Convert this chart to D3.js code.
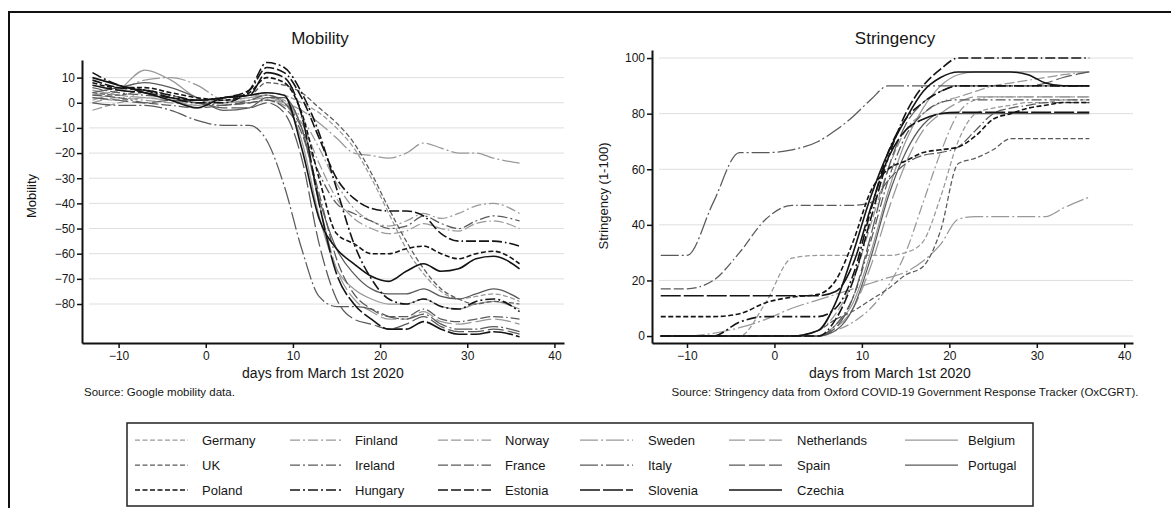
<!DOCTYPE html>
<html>
<head lang="en">
    <meta charset="UTF-8">
    <title>Mobility and Stringency</title>
    <script src="https://d3js.org/d3.v7.min.js"></script>
    <style>
        body { margin: 0; background: #fff; }
        text { font-family: "Liberation Sans", Arial, sans-serif; fill: #161616; }
    </style>
</head>
<body>
<div id="chartContainer"></div>
<script type="text/javascript">

    // days from March 1st 2020 (shared by every series)
    var days = [-13, -10, -7, -4, -1, 2, 5, 7, 9, 11, 13, 15, 17, 19, 21, 23, 25, 27, 29, 31, 33, 36];

    // legend order, row by row
    var countries = ["Germany", "Finland", "Norway", "Sweden", "Netherlands", "Belgium",
                     "UK", "Ireland", "France", "Italy", "Spain", "Portugal",
                     "Poland", "Hungary", "Estonia", "Slovenia", "Czechia"];

    // Google mobility, smoothed
    var mobGermany     = [2, 1, 4, 2, 0, 1, 2, 4, 3, 0, -4, -10, -18, -30, -44, -58, -68, -75, -78, -77, -76, -79];
    var mobFinland     = [0, 2, 1, 0, -1, 0, 1, 2, 0, -6, -18, -32, -42, -47, -49, -47, -44, -46, -44, -41, -40, -44];
    var mobNorway      = [-3, 0, 2, 1, -1, -1, 0, 1, -1, -8, -24, -38, -46, -50, -52, -51, -48, -50, -51, -48, -47, -50];
    var mobSweden      = [3, 5, 9, 10, 7, 1, 0, 1, 0, -3, -8, -14, -20, -21, -22, -20, -16, -18, -20, -20, -22, -24];
    var mobNetherlands = [5, 3, 2, 1, 0, 1, 2, 3, 1, -10, -40, -66, -78, -83, -86, -86, -83, -87, -88, -87, -86, -88];
    var mobBelgium     = [1, 5, 13, 9, 2, 0, 1, 3, 0, -15, -45, -66, -74, -78, -80, -80, -78, -81, -82, -80, -79, -82];
    var mobUK          = [4, 3, 5, 3, 1, 2, 3, 8, 7, 4, -2, -8, -16, -28, -42, -55, -66, -74, -78, -80, -79, -80];
    var mobIreland     = [6, 4, 3, 2, 0, -1, 1, 3, 0, -10, -28, -40, -44, -47, -50, -49, -45, -48, -50, -47, -45, -47];
    var mobFrance      = [3, 2, 0, -1, -2, -1, 0, 1, -2, -12, -36, -62, -76, -82, -85, -85, -82, -86, -87, -86, -85, -86];
    var mobItaly       = [0, -1, -1, -3, -7, -9, -9, -15, -33, -58, -77, -81, -81, -82, -85, -86, -84, -88, -90, -90, -89, -91];
    var mobSpain       = [2, 1, 0, 1, 0, -2, -2, 0, -4, -22, -56, -78, -86, -88, -90, -88, -85, -89, -91, -91, -90, -92];
    var mobPortugal    = [4, 6, 8, 6, 2, -3, -2, 2, 2, -10, -38, -58, -68, -74, -76, -76, -74, -77, -78, -76, -74, -78];
    var mobPoland      = [8, 6, 6, 4, 2, 1, 4, 10, 8, -4, -30, -52, -56, -60, -60, -58, -57, -60, -62, -60, -59, -64];
    var mobHungary     = [12, 7, 5, 2, 0, 0, 5, 16, 14, 4, -12, -34, -56, -70, -78, -80, -78, -81, -82, -79, -78, -83];
    var mobEstonia     = [9, 6, 5, 3, 1, 2, 5, 14, 12, 2, -14, -30, -38, -42, -43, -43, -45, -52, -55, -55, -55, -57];
    var mobSlovenia    = [7, 5, 4, 2, 1, 2, 3, 12, 10, -5, -40, -68, -80, -86, -90, -90, -87, -90, -92, -92, -91, -93];
    var mobCzechia     = [10, 7, 4, 1, -2, 2, 3, 4, 3, -18, -46, -58, -64, -69, -71, -67, -64, -67, -66, -62, -61, -66];

    // OxCGRT stringency index
    var strGermany     = [0, 0, 0, 0, 12, 28, 29, 29, 29, 29, 29, 30, 34, 50, 70, 80, 82, 83, 84, 84, 85, 85];
    var strFinland     = [0, 0, 0, 0, 0, 0, 0, 2, 5, 10, 18, 30, 48, 66, 80, 85, 86, 86, 86, 86, 86, 86];
    var strNorway      = [0, 0, 0, 0, 0, 0, 2, 8, 20, 40, 60, 74, 80, 84, 86, 88, 90, 91, 92, 93, 94, 95];
    var strSweden      = [0, 0, 1, 3, 6, 10, 13, 15, 17, 19, 21, 23, 27, 33, 42, 43, 43, 43, 43, 43, 46, 50];
    var strNetherlands = [0, 0, 0, 0, 0, 0, 0, 3, 10, 25, 45, 62, 74, 80, 84, 86, 86, 86, 86, 86, 86, 86];
    var strBelgium     = [0, 0, 0, 0, 0, 0, 0, 4, 12, 30, 52, 70, 82, 90, 94, 95, 95, 95, 95, 95, 95, 95];
    var strUK          = [0, 0, 0, 0, 0, 0, 2, 6, 9, 13, 17, 22, 25, 38, 62, 64, 67, 71, 71, 71, 71, 71];
    var strIreland     = [0, 0, 0, 0, 0, 0, 0, 4, 14, 34, 56, 72, 80, 84, 85, 85, 85, 85, 85, 85, 85, 85];
    var strFrance      = [17, 17, 20, 30, 42, 47, 47, 47, 47, 48, 56, 62, 65, 66, 68, 74, 80, 82, 83, 84, 84, 84];
    var strItaly       = [29, 29, 48, 66, 66, 67, 70, 74, 79, 85, 90, 90, 90, 90, 90, 90, 90, 90, 90, 90, 90, 90];
    var strSpain       = [0, 0, 0, 0, 0, 0, 0, 3, 14, 36, 60, 76, 84, 88, 90, 90, 90, 90, 90, 91, 93, 95];
    var strPortugal    = [0, 0, 0, 0, 0, 0, 0, 2, 10, 28, 50, 66, 76, 80, 80, 80, 80, 80, 80, 80, 80, 80];
    var strPoland      = [7, 7, 7, 8, 12, 14, 15, 20, 34, 52, 60, 63, 66, 67, 68, 72, 78, 80, 82, 83, 84, 84];
    var strHungary     = [0, 0, 0, 5, 7, 7, 7, 10, 22, 45, 66, 78, 84, 88, 90, 90, 90, 90, 90, 90, 90, 90];
    var strEstonia     = [0, 0, 0, 0, 0, 0, 0, 6, 20, 42, 64, 80, 90, 96, 100, 100, 100, 100, 100, 100, 100, 100];
    var strSlovenia    = [14.5, 14.5, 14.5, 14.5, 14.5, 14.5, 14.5, 16, 26, 46, 64, 74, 78, 80, 80.5, 80.5, 80.5, 80.5, 80.5, 80.5, 80.5, 80.5];
    var strCzechia     = [0, 0, 0, 0, 0, 0, 2, 12, 30, 50, 66, 78, 88, 93, 95, 95, 95, 95, 94, 91, 90, 90];

    var mobility = [mobGermany, mobFinland, mobNorway, mobSweden, mobNetherlands, mobBelgium,
                    mobUK, mobIreland, mobFrance, mobItaly, mobSpain, mobPortugal,
                    mobPoland, mobHungary, mobEstonia, mobSlovenia, mobCzechia];
    var stringency = [strGermany, strFinland, strNorway, strSweden, strNetherlands, strBelgium,
                      strUK, strIreland, strFrance, strItaly, strSpain, strPortugal,
                      strPoland, strHungary, strEstonia, strSlovenia, strCzechia];

    var mobTicks = [10, 0, -10, -20, -30, -40, -50, -60, -70, -80];
    var strTicks = [0, 20, 40, 60, 80, 100];
    var dayTicks = [-10, 0, 10, 20, 30, 40];

    // stata-ish mono look: pattern by legend column, shade by legend row
    var patterns = ["5,2.5", "10,3,2,3", "10,3,10,3,10,3,1.5,3", "18,3,2,3", "16,4", null];
    var shades = ["#999999", "#5a5a5a", "#141414"];
    function styleOf(i) {
        var row = Math.floor(i / 6), col = i % 6;
        var dash = patterns[col];
        if (countries[i] === "Slovenia") dash = "20,3";
        if (countries[i] === "Czechia") dash = null;
        return { color: shades[row], dash: dash, width: row === 2 ? 1.6 : 1.25 };
    }

    var W = 1171, H = 508;
    var svg = d3.select("#chartContainer").append("svg")
        .attr("width", W).attr("height", H);

    // outer frame
    svg.append("path").attr("d", "M9,508 V12 H1171")
        .attr("fill", "none").attr("stroke", "#111").attr("stroke-width", 2);

    function panel(opt) {
        var x = d3.scaleLinear().domain(opt.xDomain).range(opt.xRange);
        var y = d3.scaleLinear().domain(opt.yDomain).range([343, opt.top]);
        var g = svg.append("g");

        g.selectAll(".grid").data(opt.yTicks).enter().append("line")
            .attr("x1", opt.xRange[0] + 7).attr("x2", opt.xRange[1])
            .attr("y1", function (d) { return y(d); }).attr("y2", function (d) { return y(d); })
            .attr("stroke", "#dedede").attr("stroke-width", 1);

        var line = d3.line()
            .x(function (d, i) { return x(days[i]); })
            .y(function (d) { return y(d); })
            .curve(d3.curveMonotoneX);

        // light lines first so the black ones sit on top
        var order = d3.range(countries.length).sort(function (a, b) {
            return Math.floor(a / 6) - Math.floor(b / 6);
        });
        g.selectAll(".series").data(order).enter().append("path")
            .attr("d", function (i) { return line(opt.data[i]); })
            .attr("fill", "none")
            .attr("stroke", function (i) { return styleOf(i).color; })
            .attr("stroke-width", function (i) { return styleOf(i).width; })
            .attr("stroke-dasharray", function (i) { return styleOf(i).dash; });

        var yAxis = g.append("g").attr("transform", "translate(" + opt.xRange[0] + ",0)")
            .call(d3.axisLeft(y).tickValues(opt.yTicks).tickSize(5).tickPadding(2).tickSizeOuter(0));
        var xAxis = g.append("g").attr("transform", "translate(0,343)")
            .call(d3.axisBottom(x).tickValues(dayTicks).tickSize(5).tickPadding(3).tickSizeOuter(0));
        [yAxis, xAxis].forEach(function (a) {
            a.select(".domain").attr("stroke", "#111").attr("stroke-width", 2);
            a.selectAll(".tick line").attr("stroke", "#111").attr("stroke-width", 1.5);
            a.selectAll("text").style("font-size", "12px").attr("fill", "#161616")
                .style("font-family", "Liberation Sans, Arial, sans-serif");
        });

        g.append("text").attr("x", opt.titleX).attr("y", 44)
            .attr("text-anchor", "middle").style("font-size", "17px").text(opt.title);
        g.append("text").attr("transform", "translate(" + opt.yLabelX + "," + opt.yLabelY + ") rotate(-90)")
            .attr("text-anchor", "middle").style("font-size", "13px").text(opt.yLabel);
        g.append("text").attr("x", opt.xLabelX).attr("y", 378)
            .attr("text-anchor", "middle").style("font-size", "14px").text("days from March 1st 2020");
        g.append("text").attr("x", opt.noteX).attr("y", 396)
            .attr("text-anchor", opt.noteAnchor).style("font-size", "11.5px").text(opt.note);
    }

    panel({
        title: "Mobility", titleX: 320, top: 60,
        xDomain: [-14.2, 41.1], xRange: [82, 564],
        yDomain: [-95.5, 17], yTicks: mobTicks, data: mobility,
        yLabel: "Mobility", yLabelX: 36, yLabelY: 196, xLabelX: 323,
        note: "Source: Google mobility data.", noteX: 84, noteAnchor: "start"
    });
    panel({
        title: "Stringency", titleX: 895, top: 50,
        xDomain: [-14, 41], xRange: [652, 1133],
        yDomain: [-2.5, 102.9], yTicks: strTicks, data: stringency,
        yLabel: "Stringency (1-100)", yLabelX: 608, yLabelY: 196, xLabelX: 890,
        note: "Source: Stringency data from Oxford COVID-19 Government Response Tracker (OxCGRT).",
        noteX: 905, noteAnchor: "middle"
    });

    // legend
    var legX = [135, 290, 438, 580, 729, 905];
    var labX = [202, 355, 505, 648, 797, 968];
    var rowY = [440, 465, 490];
    svg.append("rect").attr("x", 127).attr("y", 423).attr("width", 906).attr("height", 83)
        .attr("fill", "#fff").attr("stroke", "#222").attr("stroke-width", 1.5);
    var items = svg.selectAll(".leg").data(countries).enter().append("g")
        .attr("transform", function (d, i) {
            return "translate(0," + rowY[Math.floor(i / 6)] + ")";
        });
    items.append("line")
        .attr("x1", function (d, i) { return legX[i % 6]; })
        .attr("x2", function (d, i) { return legX[i % 6] + 53; })
        .attr("stroke", function (d, i) { return styleOf(i).color; })
        .attr("stroke-width", function (d, i) { return styleOf(i).width; })
        .attr("stroke-dasharray", function (d, i) { return styleOf(i).dash; });
    items.append("text")
        .attr("x", function (d, i) { return labX[i % 6]; })
        .attr("y", 4.5)
        .style("font-size", "13px")
        .text(function (d) { return d; });
</script>
</body>
</html>
